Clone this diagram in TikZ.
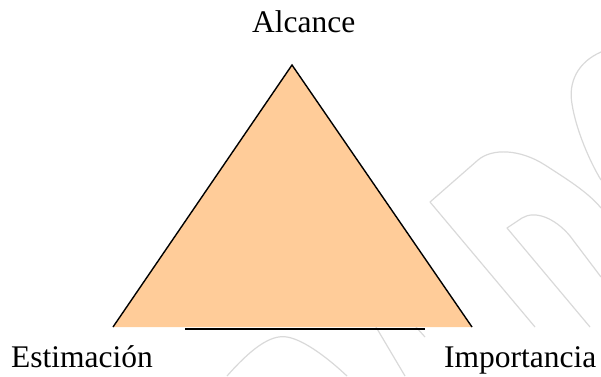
\documentclass[tikz,border=0pt]{standalone}
\usepackage{fontspec}
\setmainfont{Liberation Serif}
\definecolor{peach}{HTML}{FFCC99}
\definecolor{wmgray}{HTML}{D9D9D9}
\tikzset{
  wm/.style={draw=wmgray, line width=1.2pt, line join=round},
  side/.style={draw=black, line width=1.4pt, line join=miter},
  lbl/.style={inner sep=0pt, font=\fontsize{31.5}{36}\selectfont, text=black}
}
\begin{document}
\begin{tikzpicture}[x=1pt,y=-1pt]
\useasboundingbox (0,0) rectangle (601,376);
% watermark
\draw[wm] (601,52) .. controls (578,62) and (568,82) .. (572,104) .. controls (576,130) and (590,162) .. (601,180);
\draw[wm] (535,327) -- (430,202) -- (478,160) .. controls (492,148) and (520,149) .. (545,165) .. controls (565,178) and (588,192) .. (601,208);
\draw[wm] (590,327) -- (507,228) -- (522,218) .. controls (535,210) and (555,218) .. (570,236) -- (601,277);
\draw[wm] (227,376) .. controls (250,350) and (270,334) .. (287,337) .. controls (305,340) and (330,360) .. (347,376);
\draw[wm] (376,327) -- (405,376);
\draw[wm] (416,327) -- (425,337);
% triangle
\coordinate (apex) at (292,65);
\coordinate (bl) at (113,327);
\coordinate (br) at (472,327);
\coordinate (b1) at (185,328.8);
\coordinate (b2) at (425,328.8);
\fill[peach] (bl) -- (apex) -- (br) -- cycle;
\draw[side] (bl) -- (apex) -- (br);
\draw[black, line width=2pt] (b1) -- (b2);
% labels
\node[lbl, anchor=base west] (alc) at (252,32) {Alcance};
\node[lbl, anchor=base west] (est) at (11,367) {Estimación};
\node[lbl, anchor=base west] (imp) at (444,367) {Importancia};
\end{tikzpicture}
\end{document}
